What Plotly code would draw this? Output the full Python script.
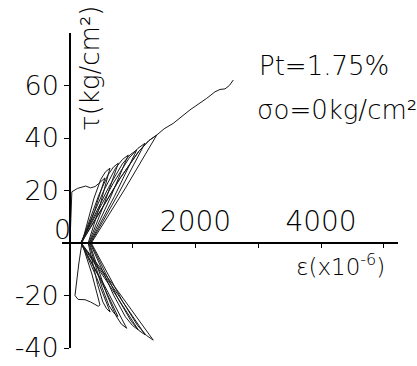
import plotly.graph_objects as go

# Strain (x10^-6) and shear stress tau (kg/cm^2)
pos_loops_eps = [
    [0, 10, 30, 120, 250, 330, 400, 450, 510, 558, 394, 190],
    [190, 284, 383, 490, 565, 637, 478, 290],
    [180, 317, 459, 602, 691, 770, 550, 300],
    [175, 356, 542, 726, 836, 929, 635, 310],
    [170, 393, 616, 834, 958, 1063, 707, 320],
    [170, 433, 690, 941, 1084, 1195, 778, 330],
    [175, 487, 799, 1096, 1257, 1382, 876, 340],
]
pos_loops_tau = [
    [0, 10, 19.5, 20.8, 21.7, 21, 21.5, 22.5, 24, 24.8, 12.4, 0],
    [0, 8.6, 17.1, 24.2, 27.1, 28.5, 14.3, 0],
    [0, 9.1, 18.2, 25.8, 28.9, 30.4, 15.2, 0],
    [0, 10.1, 20.1, 28.5, 31.8, 33.5, 16.8, 0],
    [0, 10.6, 21.2, 30.1, 33.6, 35.4, 17.7, 0],
    [0, 11.4, 22.8, 32.3, 36.1, 38, 19, 0],
    [0, 12.3, 24.7, 34.9, 39, 41.1, 20.6, 0],
]
neg_loops_eps = [
    [190, 140, 80, 130, 240, 330, 451, 478, 349, 190],
    [290, 360, 440, 523, 583, 640, 425, 180],
    [300, 400, 509, 620, 697, 765, 485, 175],
    [310, 443, 586, 730, 819, 904, 552, 170],
    [320, 505, 696, 883, 995, 1088, 644, 170],
    [330, 546, 762, 975, 1097, 1200, 703, 175],
    [340, 586, 837, 1079, 1218, 1327, 769, 180],
]
neg_loops_tau = [
    [0, -8, -20, -21.5, -21.6, -22.5, -24.1, -23.6, -11.8, 0],
    [0, -7.9, -15.8, -22.4, -25, -26.3, -13.2, 0],
    [0, -8.4, -16.8, -23.8, -26.6, -28, -14, 0],
    [0, -9.8, -19.5, -27.6, -30.9, -32.5, -16.3, 0],
    [0, -9.9, -19.9, -28.1, -31.4, -33.1, -16.6, 0],
    [0, -10.5, -21, -29.8, -33.3, -35, -17.5, 0],
    [0, -11.1, -22.2, -31.5, -35.2, -37, -18.5, 0],
]
envelope_eps = [180, 491, 801, 1097, 1257, 1382, 1500, 1647, 1912, 2178, 2311, 2390, 2470, 2540, 2603]
envelope_tau = [0, 12.3, 24.7, 34.9, 39, 41.1, 43.5, 45.6, 50.7, 55.1, 57.6, 58.5, 58.7, 60.0, 62.1]

x_tick_vals = [1000, 2000, 3000, 4000, 5000]
x_tick_text = [" ", "2000", " ", "4000", " "]
y_tick_vals = [-40, -20, 0, 20, 40, 60]
y_tick_text = ["-40", "-20", " ", "20", "40", "60"]

X_RANGE = [-127, 5227]
Y_RANGE = [-40, 80]

FONT = "DejaVu Sans"
LINE = dict(color="#1a1a1a", width=1)

fig = go.Figure()
for k in range(len(pos_loops_eps)):
    fig.add_trace(go.Scatter(x=pos_loops_eps[k], y=pos_loops_tau[k], mode="lines",
                             line=LINE, showlegend=False, hoverinfo="skip"))
    fig.add_trace(go.Scatter(x=neg_loops_eps[k], y=neg_loops_tau[k], mode="lines",
                             line=LINE, showlegend=False, hoverinfo="skip"))
fig.add_trace(go.Scatter(x=envelope_eps, y=envelope_tau, mode="lines",
                         line=LINE, showlegend=False, hoverinfo="skip"))

x_pos = (0 - Y_RANGE[0]) / (Y_RANGE[1] - Y_RANGE[0])
y_pos = (0 - X_RANGE[0]) / (X_RANGE[1] - X_RANGE[0])

fig.update_layout(
    width=417, height=366,
    margin=dict(l=62, r=19, t=33, b=18, autoexpand=False),
    paper_bgcolor="white", plot_bgcolor="white",
    font=dict(family=FONT, color="black", size=24, weight=300),
    xaxis=dict(range=X_RANGE, domain=[0, 1], anchor="free", position=x_pos,
               side="top", showgrid=False, zeroline=False, automargin=False,
               showline=True, linecolor="black", linewidth=1.5,
               ticks="inside", ticklen=4, tickcolor="black", tickwidth=1,
               tickvals=x_tick_vals, ticktext=x_tick_text,
               tickfont=dict(size=28, family=FONT, weight=300)),
    yaxis=dict(range=Y_RANGE, domain=[0, 1], anchor="free", position=y_pos,
               showgrid=False, zeroline=False, automargin=False,
               showline=True, linecolor="black", linewidth=1.5,
               ticks="outside", ticklen=5, tickcolor="black", tickwidth=1,
               tickvals=y_tick_vals, ticktext=y_tick_text,
               tickfont=dict(size=27, family=FONT, weight=300)),
)

def note(x, y, text, size, **kw):
    fig.add_annotation(x=x, y=y, text=text, showarrow=False,
                       font=dict(family=FONT, size=size, color="black", weight=300), **kw)

note(0.0, 5, "0", 27, xref="paper", xanchor="center", yanchor="middle")
note(2980, 67.4, "Pt=1.75%", 26, xanchor="left", yanchor="middle")
note(2948, 50.7, "σo=0kg/cm²", 26, xanchor="left", yanchor="middle")
note(319, 66.7, "τ(kg/cm²)", 26, textangle=-90, xanchor="center", yanchor="middle")
note(4303, -8.4, "ε(x10<sup>-6</sup>)", 23, xanchor="center", yanchor="middle")

fig.write_html("out.html", config={"displayModeBar": False},
               post_script="document.body.style.margin='0px';")
